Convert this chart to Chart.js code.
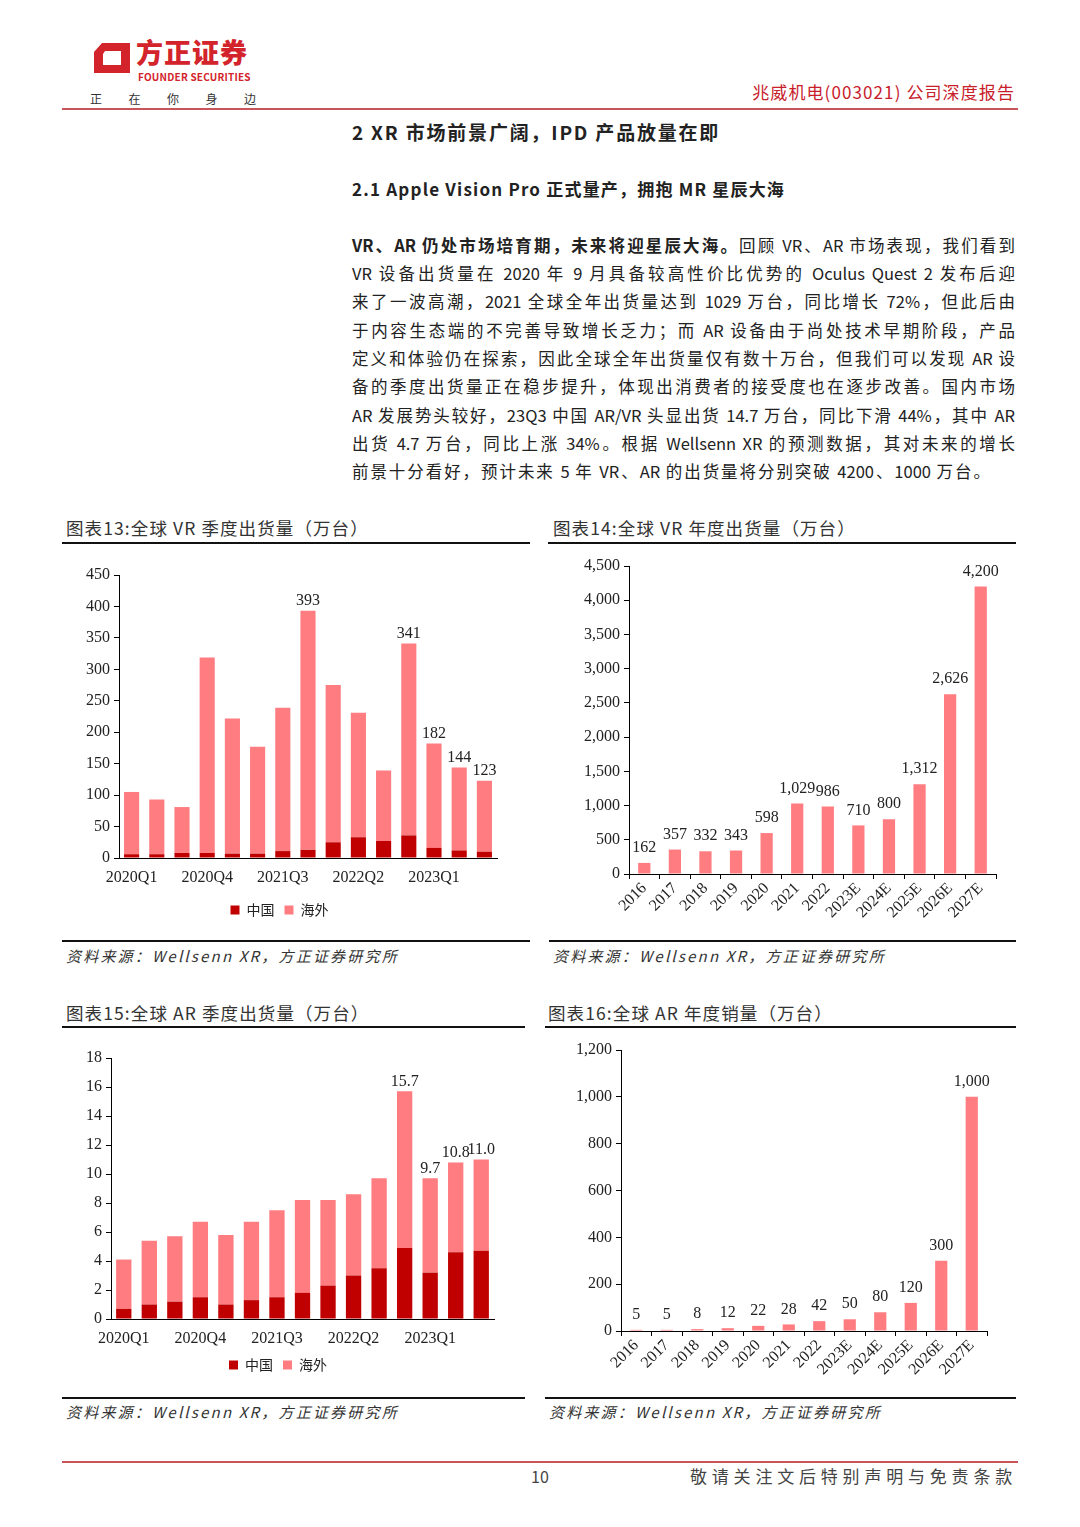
<!DOCTYPE html>
<html>
<head>
<meta charset="utf-8">
<script src="https://cdn.jsdelivr.net/npm/chart.js@4.4.0/dist/chart.umd.min.js"></script>
<style>
  body { margin: 0; width: 1080px; height: 1527px; position: relative; background: #fff;
         font-family: "Noto Sans CJK SC", sans-serif; color: #222; overflow: hidden; }
  .t { position: absolute; white-space: nowrap; }
  .rule { position: absolute; height: 2px; background: #111; }
  .red { background: #c9545a; }
  .box { position: absolute; }
  .para { position: absolute; left: 352px; width: 663px; font-size: 16.5px; line-height: 22px;
          text-align: justify; text-align-last: justify; white-space: nowrap; }
  .ttl { font-size: 17.5px; line-height: 22px; color: #333; letter-spacing: 1.1px; }
  .src { font-size: 15px; line-height: 20px; color: #333; font-style: italic; letter-spacing: 2.2px; }
</style>
</head>
<body>

<!-- header -->
<svg class="box" style="left:88px;top:38px" width="50" height="42">
  <polygon points="14,5 42,5 42,35 6,35 6,14" fill="#d3232b"/>
  <polygon points="17,13 33,13 33,27 15,27 15,16" fill="#fff"/>
</svg>
<div class="t" style="left:136px;top:36px;font-size:27px;line-height:32px;font-weight:900;color:#d3232b;letter-spacing:1px">方正证券</div>
<div class="t" style="left:138px;top:71px;font-size:10px;line-height:12px;font-weight:700;color:#d3232b;letter-spacing:0.2px">FOUNDER SECURITIES</div>
<div class="t" style="left:90px;top:91px;font-size:12px;line-height:16px;color:#333;letter-spacing:26.5px">正在你身边</div>
<div class="t" style="right:65px;top:81px;font-size:17px;line-height:22px;color:#c8202a;letter-spacing:1.1px">兆威机电(003021) 公司深度报告</div>
<div class="rule red" style="left:62px;top:108px;width:956px"></div>

<!-- headings and text -->
<div class="t" style="left:352px;top:120px;font-size:19px;line-height:24px;font-weight:700;letter-spacing:1.8px">2 XR 市场前景广阔，IPD 产品放量在即</div>
<div class="t" style="left:352px;top:178px;font-size:17px;line-height:22px;font-weight:700;letter-spacing:1.2px">2.1 Apple Vision Pro 正式量产，拥抱 MR 星辰大海</div>

<div class="para" style="top:234px"><b>VR、AR 仍处市场培育期，未来将迎星辰大海。</b>回顾 VR、AR 市场表现，我们看到</div>
<div class="para" style="top:262px">VR 设备出货量在 2020 年 9 月具备较高性价比优势的 Oculus  Quest  2 发布后迎</div>
<div class="para" style="top:290px">来了一波高潮，2021 全球全年出货量达到 1029 万台，同比增长 72%，但此后由</div>
<div class="para" style="top:319px">于内容生态端的不完善导致增长乏力；而 AR 设备由于尚处技术早期阶段，产品</div>
<div class="para" style="top:347px">定义和体验仍在探索，因此全球全年出货量仅有数十万台，但我们可以发现 AR 设</div>
<div class="para" style="top:375px">备的季度出货量正在稳步提升，体现出消费者的接受度也在逐步改善。国内市场</div>
<div class="para" style="top:404px">AR 发展势头较好，23Q3 中国 AR/VR 头显出货 14.7 万台，同比下滑 44%，其中 AR</div>
<div class="para" style="top:432px">出货 4.7 万台，同比上涨 34%。根据 Wellsenn XR 的预测数据，其对未来的增长</div>
<div class="para" style="top:460px;width:638px">前景十分看好，预计未来 5 年 VR、AR 的出货量将分别突破 4200、1000 万台。</div>

<!-- chart frames -->
<div class="t ttl" style="left:66px;top:517px">图表13:全球 VR 季度出货量（万台）</div>
<div class="rule" style="left:62px;top:542px;width:468px"></div>
<div class="t ttl" style="left:553px;top:517px">图表14:全球 VR 年度出货量（万台）</div>
<div class="rule" style="left:548px;top:542px;width:468px"></div>

<div class="rule" style="left:62px;top:940px;width:468px;height:1.5px"></div>
<div class="t src" style="left:66px;top:946px">资料来源：Wellsenn XR，方正证券研究所</div>
<div class="rule" style="left:549px;top:940px;width:467px;height:1.5px"></div>
<div class="t src" style="left:553px;top:946px">资料来源：Wellsenn XR，方正证券研究所</div>

<div class="t ttl" style="left:66px;top:1002px">图表15:全球 AR 季度出货量（万台）</div>
<div class="rule" style="left:62px;top:1026px;width:463px"></div>
<div class="t ttl" style="left:548px;top:1002px">图表16:全球 AR 年度销量（万台）</div>
<div class="rule" style="left:545px;top:1026px;width:471px"></div>

<div class="rule" style="left:62px;top:1397px;width:463px;height:1.5px"></div>
<div class="t src" style="left:66px;top:1402px">资料来源：Wellsenn XR，方正证券研究所</div>
<div class="rule" style="left:545px;top:1397px;width:471px;height:1.5px"></div>
<div class="t src" style="left:549px;top:1402px">资料来源：Wellsenn XR，方正证券研究所</div>

<!-- footer -->
<div class="rule red" style="left:62px;top:1461px;width:956px"></div>
<div class="t" style="left:531px;top:1465px;font-size:16px;line-height:22px;color:#444">10</div>
<div class="t" style="right:63px;top:1465px;font-size:17px;line-height:22px;color:#444;letter-spacing:4.8px">敬请关注文后特别声明与免责条款</div>

<div class="box" style="left:62px;top:560px"><canvas id="c13" width="470" height="370"></canvas></div>
<div class="box" style="left:550px;top:550px"><canvas id="c14" width="470" height="385"></canvas></div>
<div class="box" style="left:62px;top:1040px"><canvas id="c15" width="470" height="345"></canvas></div>
<div class="box" style="left:545px;top:1035px"><canvas id="c16" width="475" height="360"></canvas></div>

<script>
const quarters = ["2020Q1", "2020Q2", "2020Q3", "2020Q4", "2021Q1", "2021Q2", "2021Q3", "2021Q4",
                  "2022Q1", "2022Q2", "2022Q3", "2022Q4", "2023Q1", "2023Q2", "2023Q3"];
const years = ["2016", "2017", "2018", "2019", "2020", "2021", "2022", "2023E", "2024E", "2025E", "2026E", "2027E"];

// VR quarterly shipments, 10k units
const vrChina    = [6, 6, 8, 8, 7, 7, 11, 13, 25, 33, 27, 36, 16, 12, 10];
const vrOverseas = [99, 87, 73, 311, 215, 170, 228, 380, 250, 198, 112, 305, 166, 132, 113];
const vrLabelIdx = [7, 11, 12, 13, 14];

// VR yearly
const vrYearly = [162, 357, 332, 343, 598, 1029, 986, 710, 800, 1312, 2626, 4200];

// AR quarterly
const arChina    = [0.7, 1.0, 1.2, 1.5, 1.0, 1.3, 1.5, 1.8, 2.3, 3.0, 3.5, 4.9, 3.2, 4.6, 4.7];
const arOverseas = [3.4, 4.4, 4.5, 5.2, 4.8, 5.4, 6.0, 6.4, 5.9, 5.6, 6.2, 10.8, 6.5, 6.2, 6.3];
const arLabelIdx = [11, 12, 13, 14];

// AR yearly
const arYearly = [5, 5, 8, 12, 22, 28, 42, 50, 80, 120, 300, 1000];

const DARK = "#c00000";
const PINK = "#ff7c80";
const SERIF = "'Liberation Serif', 'Times New Roman', serif";
const CJK = "'Noto Sans CJK SC', sans-serif";

// draws the total above selected bars
const barLabels = {
  id: "barLabels",
  afterDatasetsDraw(chart, args, opts) {
    const ctx = chart.ctx;
    const sets = chart.data.datasets;
    const meta = chart.getDatasetMeta(sets.length - 1);
    ctx.save();
    ctx.font = "16px " + SERIF;
    ctx.fillStyle = "#222";
    ctx.textAlign = "center";
    ctx.textBaseline = "bottom";
    meta.data.forEach((bar, i) => {
      if (opts.only && !opts.only.includes(i)) return;
      const total = sets.reduce((s, d) => s + d.data[i], 0);
      ctx.fillText(opts.fmt(total), bar.x, bar.y - opts.gap);
    });
    ctx.restore();
  }
};

const fmtInt = v => Math.round(v).toLocaleString("en-US");

function yAxis(max, step, width) {
  return {
    min: 0, max: max,
    ticks: { stepSize: step, font: { family: SERIF, size: 16 }, color: "#222", padding: 4,
             callback: v => v.toLocaleString("en-US") },
    grid: { drawOnChartArea: false, color: "#000", tickLength: 5 },
    border: { color: "#000" },
    afterFit(s) { s.width = width; }
  };
}

function quarterChart(id, china, overseas, yMax, yStep, yWidth, xHeight, pad, labelIdx, fmt) {
  new Chart(document.getElementById(id), {
    type: "bar",
    data: {
      labels: quarters,
      datasets: [
        { label: "中国", data: china, backgroundColor: DARK, barPercentage: 0.6, categoryPercentage: 1 },
        { label: "海外", data: overseas, backgroundColor: PINK, barPercentage: 0.6, categoryPercentage: 1 }
      ]
    },
    options: {
      responsive: false,
      animation: false,
      layout: { padding: pad },
      scales: {
        x: {
          stacked: true,
          ticks: { autoSkip: false, maxRotation: 0, font: { family: SERIF, size: 16 }, color: "#222", padding: 10,
                   callback: (v, i) => (i % 3 === 0 ? quarters[i] : "") },
          grid: { drawOnChartArea: false, drawTicks: false },
          border: { color: "#000" },
          afterFit(s) { s.height = xHeight; }
        },
        y: Object.assign(yAxis(yMax, yStep, yWidth), { stacked: true })
      },
      plugins: {
        legend: {
          position: "bottom",
          labels: { boxWidth: 9, boxHeight: 9, padding: 10, color: "#222", font: { family: CJK, size: 14 } }
        },
        tooltip: { enabled: false },
        barLabels: { only: labelIdx, fmt: fmt, gap: 2 }
      }
    },
    plugins: [barLabels]
  });
}

function yearChart(id, values, yMax, yStep, yWidth, xHeight, pad) {
  new Chart(document.getElementById(id), {
    type: "bar",
    data: {
      labels: years,
      datasets: [{ label: "total", data: values, backgroundColor: PINK, barPercentage: 0.4, categoryPercentage: 1 }]
    },
    options: {
      responsive: false,
      animation: false,
      layout: { padding: pad },
      scales: {
        x: {
          ticks: { autoSkip: false, minRotation: 45, maxRotation: 45, font: { family: SERIF, size: 16 }, color: "#222", padding: 0 },
          grid: { offset: true, drawOnChartArea: false, color: "#000", tickLength: 5 },
          border: { color: "#000" },
          afterFit(s) { s.height = xHeight; }
        },
        y: yAxis(yMax, yStep, yWidth)
      },
      plugins: {
        legend: { display: false },
        tooltip: { enabled: false },
        barLabels: { fmt: fmtInt, gap: 7 }
      }
    },
    plugins: [barLabels]
  });
}

quarterChart("c13", vrChina, vrOverseas, 450, 50, 57, 35, { top: 15, right: 35, bottom: 3, left: 0 }, vrLabelIdx, fmtInt);
yearChart("c14", vrYearly, 4500, 500, 79, 61, { top: 16, right: 24, bottom: 0, left: 0 });
quarterChart("c15", arChina, arOverseas, 18, 2, 49, 29, { top: 18, right: 38, bottom: 3, left: 0 }, arLabelIdx, v => v.toFixed(1));
yearChart("c16", arYearly, 1200, 200, 76, 64, { top: 15, right: 33, bottom: 0, left: 0 });
</script>
</body>
</html>
